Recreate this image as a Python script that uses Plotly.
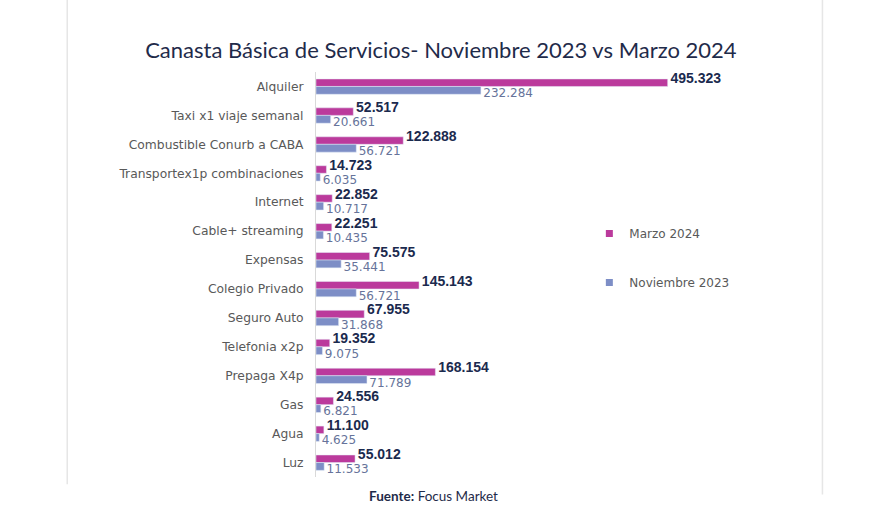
import plotly.graph_objects as go

categories = ["Alquiler", "Taxi x1 viaje semanal", "Combustible Conurb a CABA",
              "Transportex1p combinaciones", "Internet", "Cable+ streaming", "Expensas",
              "Colegio Privado", "Seguro Auto", "Telefonia x2p", "Prepaga X4p", "Gas",
              "Agua", "Luz"]
marzo_2024 = [495.323, 52.517, 122.888, 14.723, 22.852, 22.251, 75.575, 145.143,
              67.955, 19.352, 168.154, 24.556, 11.100, 55.012]
noviembre_2023 = [232.284, 20.661, 56.721, 6.035, 10.717, 10.435, 35.441, 56.721,
                  31.868, 9.075, 71.789, 6.821, 4.625, 11.533]

idx = list(range(len(categories)))

def fmt(v):
    return f"{v:.3f}"

MAG = "#BB3A9C"
BLUE = "#7D8EC6"

fig = go.Figure()
# bars
fig.add_trace(go.Bar(
    y=idx, x=marzo_2024, orientation="h", name="Marzo 2024",
    marker_color=MAG, width=0.26, offset=-0.26, showlegend=False, hoverinfo="skip",
))
fig.add_trace(go.Bar(
    y=idx, x=noviembre_2023, orientation="h", name="Noviembre 2023",
    marker_color=BLUE, width=0.27, offset=0.0, showlegend=False, hoverinfo="skip",
))
# value labels
fig.add_trace(go.Scatter(
    x=marzo_2024, y=[i - 0.24 for i in idx], mode="text",
    text=["\u2009" + fmt(v) for v in marzo_2024], textposition="middle right",
    textfont=dict(family="Liberation Sans", size=14, color="#1B2A4E", weight="bold"),
    showlegend=False, hoverinfo="skip", cliponaxis=False,
))
fig.add_trace(go.Scatter(
    x=noviembre_2023, y=[i + 0.27 for i in idx], mode="text",
    text=["\u2009" + fmt(v) for v in noviembre_2023], textposition="middle right",
    textfont=dict(family="DejaVu Sans", size=12, color="#66739A"),
    showlegend=False, hoverinfo="skip", cliponaxis=False,
))
# legend entries
fig.add_trace(go.Scatter(
    x=[None], y=[None], mode="markers", name="Marzo 2024",
    marker=dict(symbol="square", size=7, color=MAG), legendgroup="m",
))
fig.add_trace(go.Scatter(
    x=[None], y=[None], mode="markers", name="Noviembre 2023",
    marker=dict(symbol="square", size=7, color=BLUE), legendgroup="n",
))

fig.update_layout(
    width=880, height=512,
    margin=dict(l=316, r=66.5, t=71.5, b=34.5),
    paper_bgcolor="white", plot_bgcolor="white",
    barmode="overlay",
    title=dict(text="Canasta Básica de Servicios- Noviembre 2023 vs Marzo 2024",
               x=0.501, xref="container", y=0.902, yref="container",
               xanchor="center", yanchor="middle",
               font=dict(family="Lato", size=22, color="#1F2B4A")),
    xaxis=dict(range=[0, 700], visible=False),
    yaxis=dict(range=[13.5, -0.5], tickvals=idx, ticktext=categories,
               showline=True, linecolor="#D9D9D9", linewidth=1,
               showgrid=False, zeroline=False, ticks="", automargin=False,
               ticklabelstandoff=9,
               tickfont=dict(family="DejaVu Sans", size=12.3, color="#595959")),
    legend=dict(x=0.55, y=0.637, xanchor="left", yanchor="top",
                traceorder="grouped", tracegroupgap=30,
                font=dict(family="DejaVu Sans", size=12, color="#595959"),
                bgcolor="rgba(0,0,0,0)"),
    showlegend=True,
    annotations=[dict(text="<b>Fuente:</b> Focus Market", xref="paper", yref="paper",
                      x=0.236, y=-0.046, xanchor="center", yanchor="middle",
                      showarrow=False,
                      font=dict(family="Lato", size=13.5, color="#1F2B4A"))],
    shapes=[
        dict(type="line", xref="paper", yref="paper", x0=-0.5005, x1=-0.5005,
             y0=1.2, y1=-0.018, line=dict(color="#E6E6E6", width=1.5)),
        dict(type="line", xref="paper", yref="paper", x0=1.019, x1=1.019,
             y0=1.2, y1=-0.043, line=dict(color="#E6E6E6", width=1.5)),
    ],
)

fig.write_html("out.html", config={"displayModeBar": False},
               post_script="document.body.style.margin='0';")
